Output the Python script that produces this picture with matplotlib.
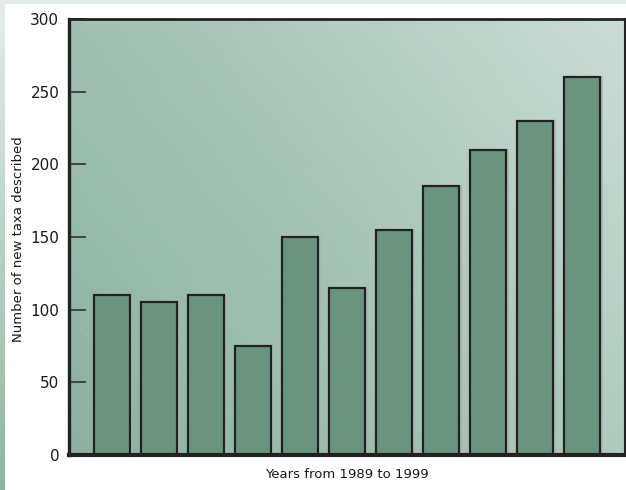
import numpy as np
import matplotlib.pyplot as plt
from matplotlib.colors import LinearSegmentedColormap
from matplotlib.patches import Rectangle

plt.rcParams['font.family'] = ['DejaVu Sans']

years = [1989, 1990, 1991, 1992, 1993, 1994, 1995, 1996, 1997, 1998, 1999]
new_taxa = [110, 105, 110, 75, 150, 115, 155, 185, 210, 230, 260]
y_ticks = [0, 50, 100, 150, 200, 250, 300]

bar_color = '#69957f'
edge_color = '#222222'

fig = plt.figure(figsize=(6.26, 4.90), dpi=100)
fig.patch.set_facecolor('white')

# thin frame strips along top and left edge
fig.add_artist(Rectangle((0, 1 - 4 / 490), 1, 4 / 490, transform=fig.transFigure,
                         facecolor='#e6edea', edgecolor='none'))
strip = fig.add_axes([0, 0, 5 / 626, 1 - 4 / 490])
strip.imshow(np.linspace(0, 1, 200).reshape(-1, 1), aspect='auto',
             cmap=LinearSegmentedColormap.from_list('s', ['#e4ede9', '#8fb5a1']),
             extent=[0, 1, 0, 1], origin='upper')
strip.axis('off')

ax = fig.add_axes([69 / 626, 35 / 490, 556 / 626, 436 / 490])

# diagonal green gradient behind the bars
gx, gy = np.meshgrid(np.linspace(0, 1, 300), np.linspace(0, 1, 300))
grad = 0.62 * gx + 0.38 * gy
bg_cmap = LinearSegmentedColormap.from_list('bg', ['#8ab29e', '#a7c5b7', '#cadcd4'])
ax.imshow(grad, cmap=bg_cmap, extent=[0, 1, 0, 1], origin='lower',
          transform=ax.transAxes, aspect='auto', zorder=0)

# faint diagonal streaks
for c in np.linspace(-1, 2, 40):
    ax.plot([c, c + 1], [1, 0], transform=ax.transAxes, color='white',
            alpha=0.06, lw=0.8, zorder=0.5)

x = np.arange(len(years))
# soft shadow behind each bar
ax.bar(x + 0.025, new_taxa, width=0.766, color='none', edgecolor='#a9b6b0',
       linewidth=1.8, zorder=1.5)
ax.bar(x, new_taxa, width=0.766, color=bar_color, edgecolor=edge_color,
       linewidth=1.6, zorder=2)

ax.set_xlim(-0.915, 10.91)
ax.set_ylim(0, 300)
ax.set_yticks(y_ticks)
ax.set_xticks([])
ax.tick_params(axis='y', direction='in', length=12, width=1.2, color='#333333',
               labelsize=11, pad=7)
for lab in ax.get_yticklabels():
    lab.set_color('#1a1a1a')

ax.spines['left'].set_linewidth(2.4)
ax.spines['bottom'].set_linewidth(3)
ax.spines['top'].set_linewidth(2)
ax.spines['right'].set_linewidth(1.5)
for s in ax.spines.values():
    s.set_color(edge_color)
    s.set_zorder(5)

ax.set_ylabel('Number of new taxa described', fontsize=9.5, color='#1a1a1a')
ax.yaxis.set_label_coords(-44 / 556, 0.495)
ax.set_xlabel('Years from 1989 to 1999', fontsize=9.5, labelpad=9, color='#1a1a1a')

fig.savefig('out.png', dpi=100)
